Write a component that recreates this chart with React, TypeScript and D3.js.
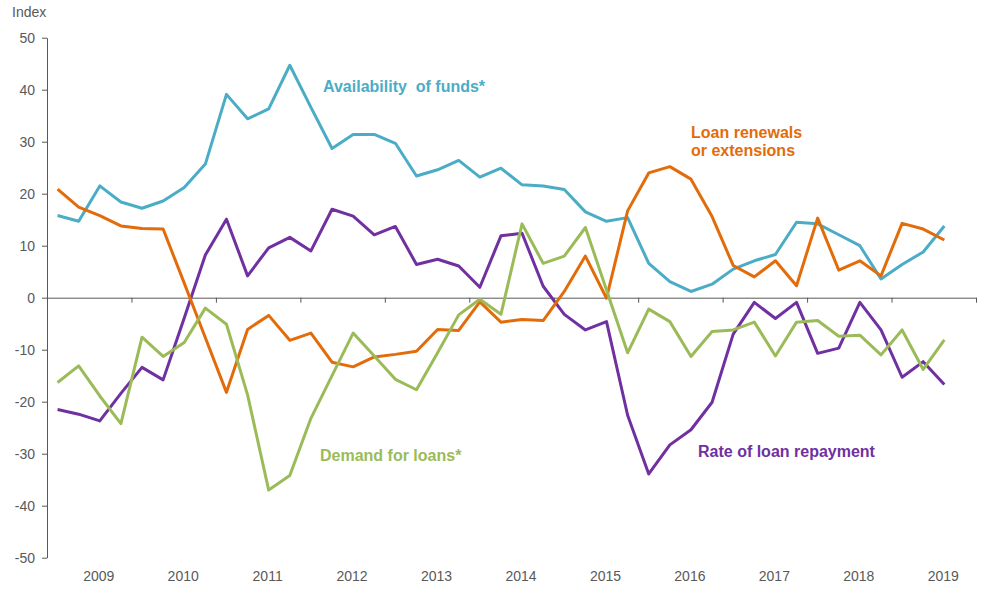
import React, { useRef, useEffect } from 'react';
import * as d3 from 'd3';

// Quarterly index values, 2009Q1 - 2019Q3
const years = ['2009', '2010', '2011', '2012', '2013', '2014', '2015', '2016', '2017', '2018', '2019'];
const yTicks = [-50, -40, -30, -20, -10, 0, 10, 20, 30, 40, 50];

const availability = [
  15.8, 14.7, 21.5, 18.4, 17.2, 18.6, 21.2, 25.7, 39.1, 34.4, 36.3, 44.7, 36.6, 28.7,
  31.4, 31.4, 29.7, 23.4, 24.6, 26.4, 23.2, 24.9, 21.7, 21.5, 20.8, 16.5, 14.7, 15.4,
  6.6, 3.1, 1.2, 2.6, 5.5, 7.1, 8.3, 14.5, 14.2, 12.1, 10.0, 3.6, 6.4, 8.8, 13.8,
];
const renewals = [
  20.9, 17.4, 15.8, 13.8, 13.3, 13.2, 2.8, -7.7, -18.2, -6.1, -3.4, -8.2, -6.8, -12.4,
  -13.3, -11.4, -10.9, -10.3, -6.1, -6.3, -0.8, -4.7, -4.2, -4.4, 1.2, 8.0, -0.1, 16.7,
  24.0, 25.2, 22.8, 15.6, 6.2, 4.0, 7.1, 2.3, 15.3, 5.3, 7.1, 4.2, 14.3, 13.2, 11.1,
];
const repayment = [
  -21.5, -22.4, -23.7, -18.4, -13.4, -15.8, -3.9, 8.2, 15.1, 4.2, 9.6, 11.6, 9.0, 17.0,
  15.7, 12.1, 13.7, 6.4, 7.4, 6.1, 2.0, 11.9, 12.4, 2.2, -3.2, -6.2, -4.6, -22.6,
  -33.9, -28.3, -25.4, -20.1, -7.0, -0.9, -4.0, -0.9, -10.7, -9.7, -0.9, -6.2, -15.3, -12.3, -16.7,
];
const demand = [
  -16.3, -13.1, -18.9, -24.2, -7.6, -11.3, -8.6, -2.0, -5.1, -18.7, -37.0, -34.2, -23.2, -15.0,
  -6.8, -11.2, -15.7, -17.7, -10.6, -3.3, -0.3, -3.2, 14.2, 6.6, 8.0, 13.5, 1.5, -10.6,
  -2.2, -4.6, -11.3, -6.5, -6.2, -4.7, -11.2, -4.7, -4.4, -7.4, -7.2, -11.0, -6.2, -13.8, -8.1,
];

const series = [
  { name: 'availability', values: availability, color: '#4BACC6' },
  { name: 'repayment', values: repayment, color: '#7030A0' },
  { name: 'renewals', values: renewals, color: '#E36C0A' },
  { name: 'demand', values: demand, color: '#9BBB59' },
];

const labels = [
  { lines: ['Availability  of funds*'], x: 323, y: 92, color: '#4BACC6' },
  { lines: ['Loan renewals', 'or extensions'], x: 691, y: 138, color: '#E36C0A' },
  { lines: ['Demand for loans*'], x: 320, y: 461, color: '#9BBB59' },
  { lines: ['Rate of loan repayment'], x: 698, y: 457, color: '#7030A0' },
];

const width = 997;
const height = 589;
const font = 'Arial, "Liberation Sans", sans-serif';
const grey = '#595959';

export default function App() {
  const svgRef = useRef<SVGSVGElement>(null);

  useEffect(() => {
    if (!svgRef.current) return;
    const svg = d3.select(svgRef.current);
    svg.selectAll('*').remove();

    const nQ = years.length * 4;
    const x = d3.scaleLinear().domain([0, nQ]).range([47, 976]);
    const y = d3.scaleLinear().domain([-50, 50]).range([557.7, 37.7]);

    // y axis
    const yAxis = svg.append('g')
      .attr('transform', `translate(${x(0)},0)`)
      .call(d3.axisLeft(y).tickValues(yTicks).tickSize(5).tickSizeOuter(0).tickPadding(7)
        .tickFormat(d => String(d)));
    yAxis.select('.domain').attr('stroke', grey);
    yAxis.selectAll('line').attr('stroke', grey);
    yAxis.selectAll('text')
      .attr('fill', grey)
      .attr('font-family', font)
      .attr('font-size', 14);

    // x axis along zero
    const xAxis = svg.append('g')
      .attr('transform', `translate(0,${y(0)})`)
      .call(d3.axisBottom(x).tickValues(d3.range(0, nQ + 1, 4)).tickSize(5).tickSizeOuter(0).tickFormat(() => ''));
    xAxis.select('.domain').attr('stroke', grey);
    xAxis.selectAll('line').attr('stroke', grey);

    // year labels
    svg.append('g')
      .selectAll('text')
      .data(years)
      .enter()
      .append('text')
      .attr('x', (d, i) => x(i * 4 + 2.45))
      .attr('y', 581)
      .attr('text-anchor', 'middle')
      .attr('font-family', font)
      .attr('font-size', 14)
      .attr('fill', grey)
      .text(d => d);

    svg.append('text')
      .attr('x', 12)
      .attr('y', 17)
      .attr('font-family', font)
      .attr('font-size', 14)
      .attr('fill', grey)
      .text('Index');

    const line = d3.line<number>()
      .x((d, i) => x(i + 0.5))
      .y(d => y(d));

    series.forEach(s => {
      svg.append('path')
        .datum(s.values)
        .attr('fill', 'none')
        .attr('stroke', s.color)
        .attr('stroke-width', 3)
        .attr('stroke-linejoin', 'round')
        .attr('d', line);
    });

    labels.forEach(l => {
      const t = svg.append('text')
        .attr('x', l.x)
        .attr('y', l.y)
        .attr('font-family', font)
        .attr('font-size', 16)
        .attr('font-weight', 'bold')
        .attr('fill', l.color)
        .style('white-space', 'pre');
      l.lines.forEach((ln, i) => {
        t.append('tspan')
          .attr('x', l.x)
          .attr('dy', i === 0 ? 0 : 18)
          .text(ln);
      });
    });
  }, []);

  return (
    <svg
      ref={svgRef}
      width={width}
      height={height}
      style={{ position: 'absolute', left: 0, top: 0, background: '#fff' }}
    />
  );
}
